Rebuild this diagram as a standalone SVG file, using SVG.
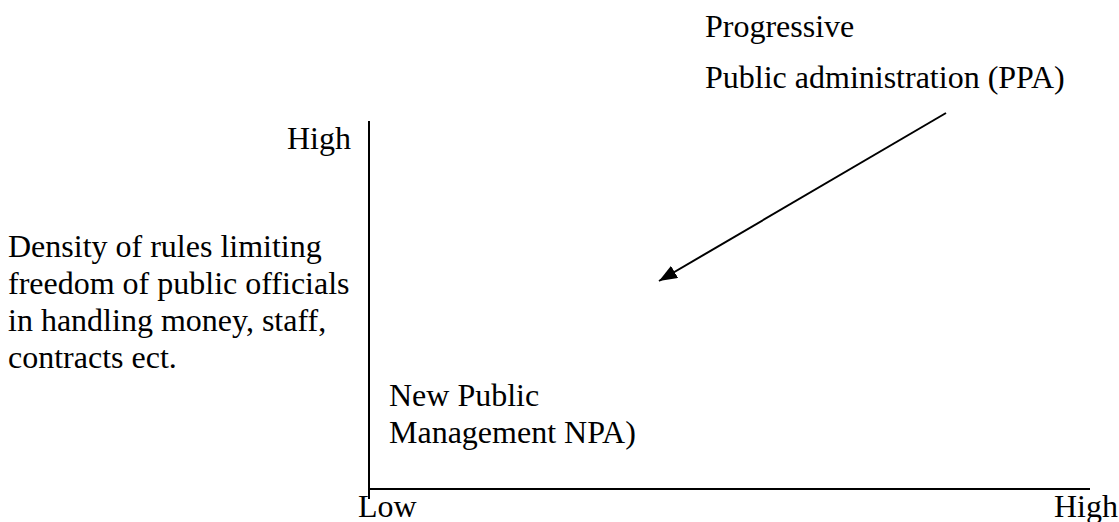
<svg xmlns="http://www.w3.org/2000/svg" width="1119" height="522" viewBox="0 0 1119 522">
<style>
text { font-family: "Liberation Serif", "Times New Roman", serif; font-size: 32px; fill: #000; }
.ax { stroke: #000; stroke-width: 2; fill: none; }
.conn { stroke: #000; stroke-width: 2; fill: none; }
</style>
<defs>
<marker id="ah" markerUnits="userSpaceOnUse" markerWidth="20" markerHeight="14" refX="18" refY="7" orient="auto">
<path d="M0,0 L18,7 L0,14 z" fill="#000"/>
</marker>
</defs>
<rect width="1119" height="522" fill="#fff"/>
<g id="axes">
<line class="ax" x1="369" y1="121" x2="369" y2="499"/>
<line class="ax" x1="368" y1="489" x2="1090" y2="489"/>
</g>
<g id="y-high"><text x="287" y="149">High</text></g>
<g id="x-low"><text x="358" y="517">Low</text></g>
<g id="x-high"><text x="1054" y="517">High</text></g>
<g id="y-label">
<text x="8" y="257">Density of rules limiting</text>
<text x="8" y="294">freedom of public officials</text>
<text x="8" y="331">in handling money, staff,</text>
<text x="8" y="368">contracts ect.</text>
</g>
<g id="ppa">
<text x="705" y="37">Progressive</text>
<text x="705" y="88">Public administration (PPA)</text>
</g>
<g id="npm">
<text x="389" y="406">New Public</text>
<text x="389" y="443">Management NPA)</text>
</g>
<g id="connectors">
<line class="conn" x1="946" y1="113" x2="659" y2="281" marker-end="url(#ah)"/>
</g>
</svg>
